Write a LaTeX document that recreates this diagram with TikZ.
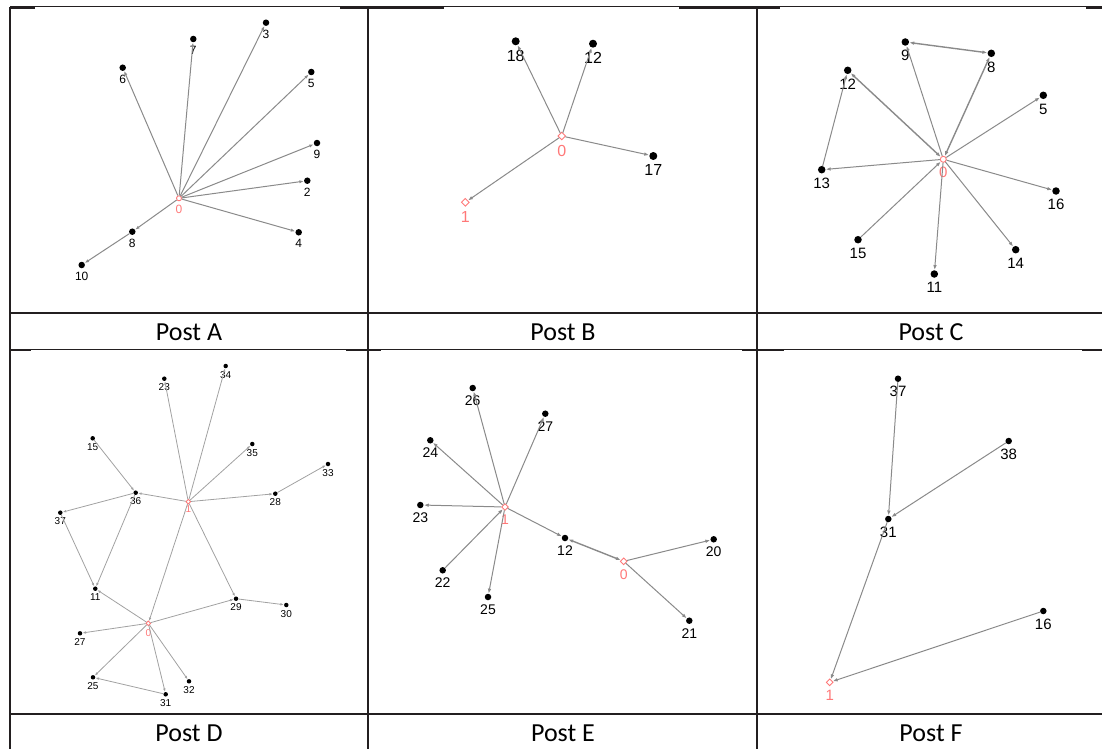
\documentclass[tikz,border=0pt]{standalone}
\usepackage{fontspec}
\newfontfamily\capfont{Carlito}
\newfontfamily\lblfont{Liberation Sans}
\usetikzlibrary{arrows.meta,shapes.geometric}
\definecolor{rootred}{RGB}{255,120,120}
\definecolor{edgegray}{RGB}{138,138,138}
\definecolor{rulecolor}{RGB}{35,31,32}
\tikzset{
  dot/.style={circle, fill=black, inner sep=0pt, minimum size=#1},
  rootdiamond/.style={diamond, draw=rootred, line width=0.9pt, inner sep=0pt, minimum size=#1},
  rootcircle/.style={circle, draw=rootred, line width=0.9pt, inner sep=0pt, minimum size=#1},
  rootlbl/.style={text=rootred},
  edge/.style={draw=edgegray, line width=1pt, -{Latex[length=5pt,width=3.6pt]}},
  twoway/.style={edge, line width=1.4pt, {Latex[length=5pt,width=3.6pt]}-{Latex[length=5pt,width=3.6pt]}},
  caption/.style={font=\capfont\fontsize{26}{26}\selectfont, anchor=base, inner sep=0pt},
  thickrule/.style={draw=rulecolor, line width=2.2pt},
  thinrule/.style={draw=rulecolor, line width=1pt},
}
\begin{document}
\begin{tikzpicture}[x=1pt, y=-1pt]
\useasboundingbox (0,0) rectangle (1102,749);
% Table rules
\draw[thinrule] (10,7) -- (1102,7);
\draw[thickrule] (10,8) -- (35,8);
\draw[thickrule] (340,8) -- (444,8);
\draw[thickrule] (679,8) -- (780,8);
\draw[thickrule] (1086,8) -- (1102,8);
\draw[thickrule] (9,313) -- (1102,313);
\draw[thinrule] (10,349) -- (1102,349);
\draw[thickrule] (9,349.6) -- (31,349.6);
\draw[thickrule] (346,349.6) -- (381,349.6);
\draw[thickrule] (742,349.6) -- (784,349.6);
\draw[thickrule] (1082,349.6) -- (1102,349.6);
\draw[thickrule] (9,714) -- (1102,714);
\draw[thickrule] (10,7) -- (10,749);
\draw[thickrule] (368,7) -- (368,749);
\draw[thickrule] (757,7) -- (757,749);
% Captions
\node[caption] (capA) at (189,340) {Post A};
\node[caption] (capB) at (563,340) {Post B};
\node[caption] (capC) at (931,340) {Post C};
\node[caption] (capD) at (189,741) {Post D};
\node[caption] (capE) at (563,741) {Post E};
\node[caption] (capF) at (931,741) {Post F};
% Post A
\begin{scope}[every label/.append style={font=\lblfont\fontsize{12}{12}\selectfont, inner sep=0pt}, label distance=3.7pt, edge/.append style={-{Latex[length=4.5pt,width=3.2pt]}}]
  \node[rootcircle=5pt] (a0) at (179,198.3) [label={[rootlbl]below:0}] {};
  \node[dot=6.5pt] (a6) at (122.7,67.7) [label=below:6] {};
  \node[dot=6.5pt] (a7) at (193.3,39) [label=below:7] {};
  \node[dot=6.5pt] (a3) at (266,22.7) [label=below:3] {};
  \node[dot=6.5pt] (a5) at (311.3,72) [label=below:5] {};
  \node[dot=6.5pt] (a9) at (317,143) [label=below:9] {};
  \node[dot=6.5pt] (a2) at (307.3,180.7) [label=below:2] {};
  \node[dot=6.5pt] (a4) at (298.7,232.3) [label=below:4] {};
  \node[dot=6.5pt] (a8) at (132.3,231.7) [label=below:8] {};
  \node[dot=6.5pt] (a10) at (81.7,265) [label=below:10] {};
  \draw[edge] (a0) -- (a6);
  \draw[edge] (a0) -- (a7);
  \draw[edge] (a0) -- (a3);
  \draw[edge] (a0) -- (a5);
  \draw[edge] (a0) -- (a9);
  \draw[edge] (a0) -- (a2);
  \draw[edge] (a0) -- (a4);
  \draw[edge] (a0) -- (a8);
  \draw[edge] (a8) -- (a10);
\end{scope}
% Post B
\begin{scope}[every label/.append style={font=\lblfont\fontsize{16}{16}\selectfont, inner sep=0pt}, label distance=4.3pt]
  \node[rootdiamond=8pt] (b0) at (561.7,136) [label={[rootlbl]below:0}] {};
  \node[rootdiamond=8pt] (b1) at (465.3,202.3) [label={[rootlbl]below:1}] {};
  \node[dot=8pt] (b18) at (515.7,41.3) [label=below:18] {};
  \node[dot=8pt] (b12) at (593,43.7) [label=below:12] {};
  \node[dot=8pt] (b17) at (653.3,156) [label=below:17] {};
  \draw[edge] (b0) -- (b18);
  \draw[edge] (b0) -- (b12);
  \draw[edge] (b0) -- (b17);
  \draw[edge] (b0) -- (b1);
\end{scope}
% Post C
\begin{scope}[every label/.append style={font=\lblfont\fontsize{15}{15}\selectfont, inner sep=0pt}, label distance=4.3pt]
  \node[rootcircle=6pt] (c0) at (943.3,159.3) [label={[rootlbl]below:0}] {};
  \node[dot=7.5pt] (c9) at (905.3,42) [label=below:9] {};
  \node[dot=7.5pt] (c8) at (991.3,53.3) [label=below:8] {};
  \node[dot=7.5pt] (c12) at (847.7,70.3) [label=below:12] {};
  \node[dot=7.5pt] (c5) at (1043.3,95.3) [label=below:5] {};
  \node[dot=7.5pt] (c13) at (821.7,169.7) [label=below:13] {};
  \node[dot=7.5pt] (c16) at (1056,191) [label=below:16] {};
  \node[dot=7.5pt] (c15) at (858,239.7) [label=below:15] {};
  \node[dot=7.5pt] (c14) at (1015.7,249.7) [label=below:14] {};
  \node[dot=7.5pt] (c11) at (934.3,274) [label=below:11] {};
  \draw[edge] (c0) -- (c9);
  \draw[twoway] (c0) -- (c8);
  \draw[twoway] (c9) -- (c8);
  \draw[twoway] (c0) -- (c12);
  \draw[edge] (c13) -- (c12);
  \draw[edge] (c0) -- (c5);
  \draw[edge] (c0) -- (c13);
  \draw[edge] (c0) -- (c16);
  \draw[edge] (c15) -- (c0);
  \draw[edge] (c0) -- (c14);
  \draw[edge] (c0) -- (c11);
\end{scope}
% Post D
\begin{scope}[every label/.append style={font=\lblfont\fontsize{10}{10}\selectfont, inner sep=0pt}, label distance=2.6pt, edge/.append style={draw=edgegray!80, line width=0.8pt, -{Latex[length=3.5pt,width=2.6pt]}}]
  \node[rootdiamond=5pt] (d1) at (188.3,501.7) [label={[rootlbl, label distance=0.5pt]below:1}] {};
  \node[rootdiamond=5pt] (d0) at (148.3,623.3) [label={[rootlbl]below:0}] {};
  \node[dot=4.5pt] (d23) at (164.3,378.7) [label=below:23] {};
  \node[dot=4.5pt] (d34) at (225.7,366) [label=below:34] {};
  \node[dot=4.5pt] (d15) at (92.7,438.3) [label=below:15] {};
  \node[dot=4.5pt] (d35) at (252.3,444) [label=below:35] {};
  \node[dot=4.5pt] (d33) at (328,464) [label=below:33] {};
  \node[dot=4.5pt] (d36) at (135.7,492.7) [label=below:36] {};
  \node[dot=4.5pt] (d28) at (275.3,493.7) [label=below:28] {};
  \node[dot=4.5pt] (d37) at (60.3,512.7) [label=below:37] {};
  \node[dot=4.5pt] (d11) at (95.3,588.7) [label=below:11] {};
  \node[dot=4.5pt] (d29) at (236,598.7) [label=below:29] {};
  \node[dot=4.5pt] (d30) at (286.3,605) [label=below:30] {};
  \node[dot=4.5pt] (d27) at (80,633.3) [label=below:27] {};
  \node[dot=4.5pt] (d25) at (93,677.3) [label=below:25] {};
  \node[dot=4.5pt] (d32) at (189,681.3) [label=below:32] {};
  \node[dot=4.5pt] (d31) at (165.7,694.3) [label=below:31] {};
  \draw[edge] (d1) -- (d23);
  \draw[edge] (d1) -- (d34);
  \draw[edge] (d1) -- (d35);
  \draw[edge] (d1) -- (d36);
  \draw[edge] (d1) -- (d28);
  \draw[edge] (d1) -- (d29);
  \draw[edge] (d1) -- (d0);
  \draw[edge] (d15) -- (d36);
  \draw[edge] (d36) -- (d37);
  \draw[edge] (d36) -- (d11);
  \draw[edge] (d37) -- (d11);
  \draw[edge] (d28) -- (d33);
  \draw[edge] (d0) -- (d11);
  \draw[edge] (d0) -- (d29);
  \draw[edge] (d29) -- (d30);
  \draw[edge] (d0) -- (d27);
  \draw[edge] (d0) -- (d25);
  \draw[edge] (d0) -- (d31);
  \draw[edge] (d0) -- (d32);
  \draw[edge] (d31) -- (d25);
\end{scope}
% Post E
\begin{scope}[every label/.append style={font=\lblfont\fontsize{14}{14}\selectfont, inner sep=0pt}, label distance=4.2pt]
  \node[rootdiamond=7pt] (e1) at (505,507) [label={[rootlbl]below:1}] {};
  \node[rootdiamond=7pt] (e0) at (623.7,561.3) [label={[rootlbl]below:0}] {};
  \node[dot=6.5pt] (e26) at (472.7,388) [label=below:26] {};
  \node[dot=6.5pt] (e27) at (545.3,413.7) [label=below:27] {};
  \node[dot=6.5pt] (e24) at (430.3,440.3) [label=below:24] {};
  \node[dot=6.5pt] (e23) at (420.3,505) [label=below:23] {};
  \node[dot=6.5pt] (e12) at (565,538) [label=below:12] {};
  \node[dot=6.5pt] (e20) at (713.7,539.3) [label=below:20] {};
  \node[dot=6.5pt] (e22) at (442.7,570.3) [label=below:22] {};
  \node[dot=6.5pt] (e25) at (488,597) [label=below:25] {};
  \node[dot=6.5pt] (e21) at (689.3,620.7) [label=below:21] {};
  \draw[edge] (e1) -- (e26);
  \draw[edge] (e1) -- (e27);
  \draw[edge] (e1) -- (e24);
  \draw[edge] (e1) -- (e23);
  \draw[edge] (e22) -- (e1);
  \draw[edge] (e1) -- (e25);
  \draw[edge] (e1) -- (e12);
  \draw[twoway] (e0) -- (e12);
  \draw[edge] (e0) -- (e20);
  \draw[edge] (e0) -- (e21);
\end{scope}
% Post F
\begin{scope}[every label/.append style={font=\lblfont\fontsize{15}{15}\selectfont, inner sep=0pt}, label distance=4pt]
  \node[rootdiamond=7pt] (f1) at (829.7,682.3) [label={[rootlbl]below:1}] {};
  \node[dot=6.5pt] (f37) at (898,378.7) [label=below:37] {};
  \node[dot=6.5pt] (f38) at (1008.7,441) [label=below:38] {};
  \node[dot=6.5pt] (f31) at (888.3,519) [label=below:31] {};
  \node[dot=6.5pt] (f16) at (1043.3,611) [label=below:16] {};
  \draw[edge] (f37) -- (f31);
  \draw[edge] (f38) -- (f31);
  \draw[edge] (f31) -- (f1);
  \draw[edge] (f16) -- (f1);
\end{scope}
\end{tikzpicture}
\end{document}
